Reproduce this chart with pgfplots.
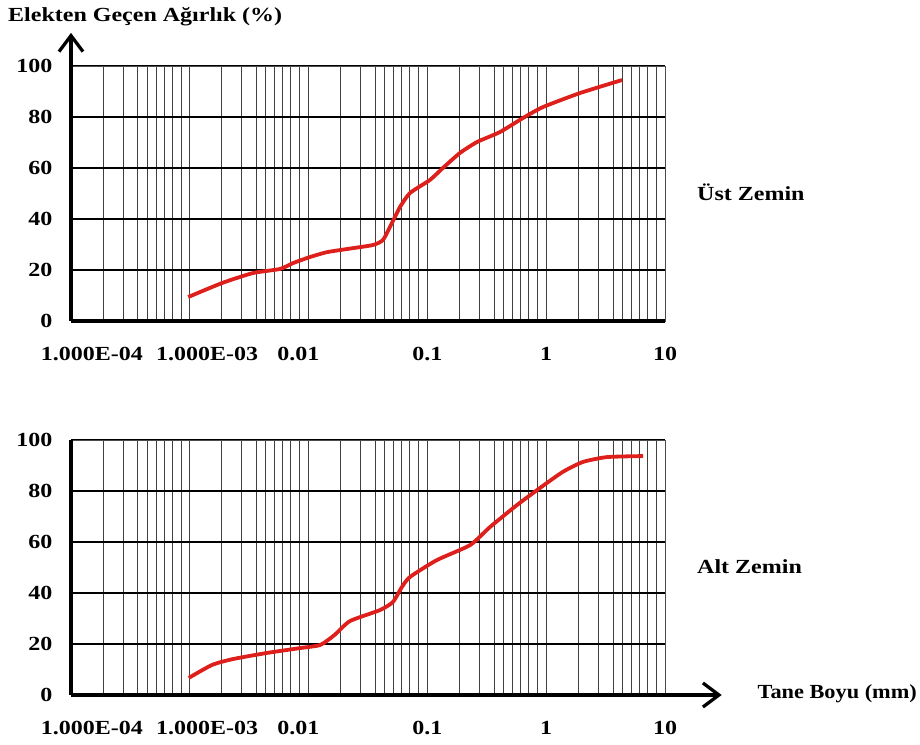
\documentclass[border=0pt]{standalone}
\usepackage{fontspec}
\setmainfont{Liberation Serif}[FakeStretch=1.2]
\usepackage{pgfplots}
\pgfplotsset{compat=1.18}
\usetikzlibrary{arrows.meta}
\definecolor{curve}{RGB}{222,32,28}
\pgfplotsset{
  gsd/.style={
    width=594pt, height=255pt, scale only axis,
    xmin=1e-4, xmax=10, ymin=0, ymax=100,
    clip=false,
    xtick={1.5e-4,1.4e-3,0.0082,0.1,1,10},
    xticklabels={1.000E-04,1.000E-03,0.01,0.1,1,10},
    minor xtick={1e-4,1.86e-4,2.74e-4,3.66e-4,4.36e-4,5.19e-4,6.07e-4,7.08e-4,8.43e-4,
                 1e-3,1.86e-3,2.74e-3,3.66e-3,4.36e-3,5.19e-3,6.07e-3,7.08e-3,8.43e-3,
                 0.01,0.0186,0.0274,0.0366,0.0436,0.0519,0.0607,0.0708,0.0843,
                 0.1,0.186,0.274,0.366,0.436,0.519,0.607,0.708,0.843,
                 1,1.86,2.74,3.66,4.36,5.19,6.07,7.08,8.43,10},
    xmajorgrids=false, xminorgrids=true,
    ytick={0,20,40,60,80,100},
    yticklabels={0,20,40,60,80,100},
    ymajorgrids=true,
    major tick length=0pt, minor tick length=0pt,
    minor grid style={black!75, line width=0.9pt},
    major grid style={black, line width=1.1pt},
    axis line style={black!70, line width=0.9pt},
    tick label style={font=\fontsize{20}{21}\selectfont\bfseries},
    xticklabel style={yshift=-23pt},
    yticklabel style={xshift=-15pt},
  }
}
\begin{document}
\begin{tikzpicture}[x=1pt,y=1pt]
\path[use as bounding box] (0,0) rectangle (920,744);
\begin{semilogxaxis}[gsd, at={(71pt,423pt)}, anchor=south west]
\addplot[curve, line width=3.8pt, smooth, tension=0.35] coordinates {
(0.00097,9.4) (0.00187,14.9) (0.0034,18.8) (0.00574,20.4) (0.00739,22.7)
(0.0103,25.1) (0.0143,27) (0.0223,28.4) (0.0348,29.8) (0.0423,31.8)
(0.0503,38.4) (0.0588,44.7) (0.0714,50.2) (0.105,55.3) (0.135,60)
(0.188,65.9) (0.262,70.2) (0.408,74.1) (0.638,79.6) (0.94,83.9)
(1.93,89.4) (4.35,94.5)};
\draw[line width=3.3pt, -{Straight Barb[length=16pt,width=24pt]}] (axis cs:1e-4,0) -- (axis cs:1e-4,113);
\draw[line width=3.3pt] (axis cs:1e-4,0) -- (axis cs:10,0);
\end{semilogxaxis}
\begin{semilogxaxis}[gsd, at={(71pt,49pt)}, anchor=south west]
\addplot[curve, line width=3.8pt, smooth, tension=0.35] coordinates {
(0.00098,6.7) (0.00154,11.8) (0.00231,14.1) (0.00447,16.5) (0.00847,18.4)
(0.0125,19.6) (0.0165,23.5) (0.0223,29.0) (0.0399,33.3) (0.0513,36.5)
(0.0611,42.4) (0.0714,46.3) (0.120,52.9) (0.229,58.8) (0.337,65.9)
(0.568,74.5) (0.887,81.2) (1.38,87.5) (2.04,91.4) (3.25,93.3) (6.53,93.7)};
\draw[line width=3.3pt] (axis cs:1e-4,0) -- (axis cs:1e-4,100);
\draw[line width=3.3pt, -{Straight Barb[length=16pt,width=24pt]}] (axis cs:1e-4,0) -- (axis cs:30,0);
\end{semilogxaxis}
\node[anchor=west, font=\fontsize{20}{21}\selectfont\bfseries, inner sep=0pt] at (8,727) {Elekten Geçen Ağırlık (\%)};
\node[anchor=west, font=\fontsize{20}{21}\selectfont\bfseries, inner sep=0pt] at (697,552) {Üst Zemin};
\node[anchor=west, font=\fontsize{20}{21}\selectfont\bfseries, inner sep=0pt] at (697,177) {Alt Zemin};
\node[anchor=east, font=\fontsize{20}{21}\selectfont\bfseries, inner sep=0pt] at (917,50) {\scalebox{0.93}[1]{Tane Boyu (mm)}};
\end{tikzpicture}
\end{document}
